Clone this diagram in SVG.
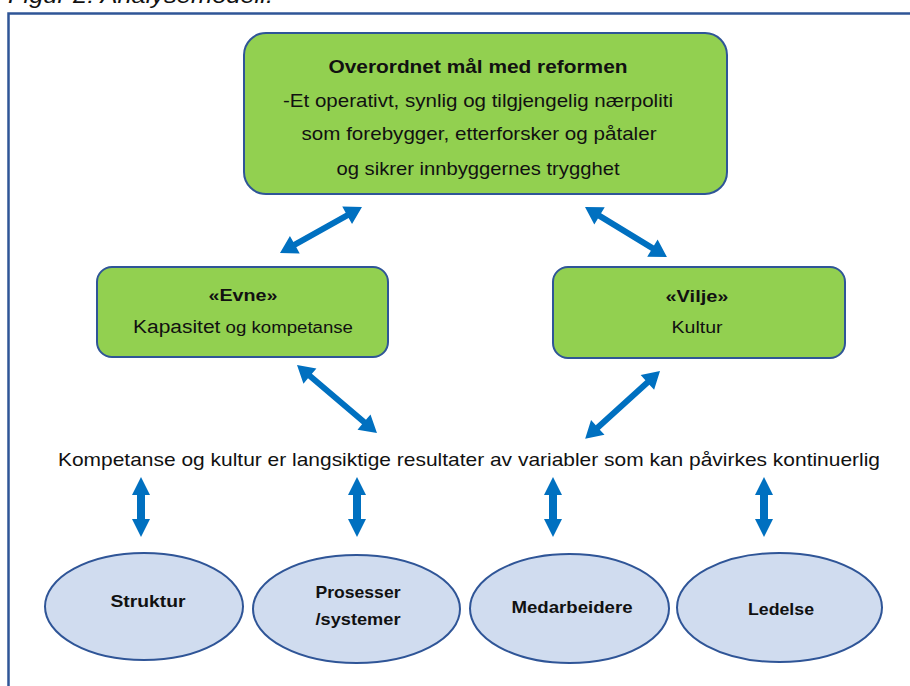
<svg xmlns="http://www.w3.org/2000/svg" xmlns:xlink="http://www.w3.org/1999/xlink" width="910" height="686" viewBox="0 0 910 686">
  <style>
    text { font-family: "Liberation Sans", Arial, sans-serif; fill: #111; text-anchor: middle; }
    .box { fill: #92D050; stroke: #2F5597; stroke-width: 2; }
    .oval { fill: #D0DCEF; stroke: #2F5597; stroke-width: 2; }
    .arrow { fill: #0070C0; }
    .b { font-weight: bold; }
  </style>
  <defs>
    <path id="varrow" d="M0,0 L9,18 L4,18 L4,42 L9,42 L0,60 L-9,42 L-4,42 L-4,18 L-9,18 Z"/>
  </defs>
  <rect width="910" height="686" fill="#fff"/>
  <text x="8" y="3" style="text-anchor:start;font-style:italic" font-size="22" textLength="265" lengthAdjust="spacingAndGlyphs">Figur 2: Analysemodell.</text>
  <rect x="8.5" y="13.5" width="1000" height="1000" fill="none" stroke="#2F5597" stroke-width="2.5"/>

  <g id="maal">
    <rect class="box" x="244" y="33" width="483" height="161" rx="22"/>
    <text class="b" x="478" y="73" font-size="19" textLength="299" lengthAdjust="spacingAndGlyphs">Overordnet mål med reformen</text>
    <text x="478" y="107" font-size="19" textLength="390" lengthAdjust="spacingAndGlyphs">-Et operativt, synlig og tilgjengelig nærpoliti</text>
    <text x="479" y="140" font-size="19" textLength="355" lengthAdjust="spacingAndGlyphs">som forebygger, etterforsker og påtaler</text>
    <text x="478" y="175" font-size="19" textLength="283" lengthAdjust="spacingAndGlyphs">og sikrer innbyggernes trygghet</text>
  </g>

  <g id="evne">
    <rect class="box" x="97" y="267" width="291" height="90" rx="15"/>
    <text class="b" x="243" y="301" font-size="17" textLength="69" lengthAdjust="spacingAndGlyphs">«Evne»</text>
    <text x="243" y="333" font-size="16" textLength="220" lengthAdjust="spacingAndGlyphs"><tspan font-size="18">Kapasitet</tspan> og kompetanse</text>
  </g>

  <g id="vilje">
    <rect class="box" x="553" y="267" width="292" height="91" rx="15"/>
    <text class="b" x="697" y="302" font-size="17" textLength="63" lengthAdjust="spacingAndGlyphs">«Vilje»</text>
    <text x="697" y="333" font-size="16" textLength="51" lengthAdjust="spacingAndGlyphs">Kultur</text>
  </g>

  <g id="variabler">
    <text x="469" y="466" font-size="19" textLength="822" lengthAdjust="spacingAndGlyphs">Kompetanse og kultur er langsiktige resultater av variabler som kan påvirkes kontinuerlig</text>
  </g>

  <g id="struktur">
    <ellipse class="oval" cx="144" cy="606.5" rx="99" ry="53.5"/>
    <text class="b" x="148" y="607" font-size="17" textLength="75" lengthAdjust="spacingAndGlyphs">Struktur</text>
  </g>
  <g id="prosesser">
    <ellipse class="oval" cx="356.5" cy="609" rx="103.5" ry="54"/>
    <text class="b" x="358" y="598" font-size="17" textLength="85" lengthAdjust="spacingAndGlyphs">Prosesser</text>
    <text class="b" x="358" y="625" font-size="17" textLength="85" lengthAdjust="spacingAndGlyphs">/systemer</text>
  </g>
  <g id="medarbeidere">
    <ellipse class="oval" cx="569.5" cy="608.5" rx="99.5" ry="54.5"/>
    <text class="b" x="572" y="613" font-size="17" textLength="121" lengthAdjust="spacingAndGlyphs">Medarbeidere</text>
  </g>
  <g id="ledelse">
    <ellipse class="oval" cx="779.5" cy="607.5" rx="102.5" ry="54.5"/>
    <text class="b" x="781" y="615" font-size="17" textLength="66" lengthAdjust="spacingAndGlyphs">Ledelse</text>
  </g>

  <g id="connectors" class="arrow">
    <path transform="translate(280,253) rotate(-29.3)" d="M0,0 L17,-10 L17,-3 L77,-3 L77,-10 L94,0 L77,10 L77,3 L17,3 L17,10 Z"/>
    <path transform="translate(585,207) rotate(31.4)" d="M0,0 L17,-10 L17,-3 L79,-3 L79,-10 L96,0 L79,10 L79,3 L17,3 L17,10 Z"/>
    <path transform="translate(297,365) rotate(40.4)" d="M0,0 L17,-10 L17,-3 L88,-3 L88,-10 L105,0 L88,10 L88,3 L17,3 L17,10 Z"/>
    <path transform="translate(660,371) rotate(137.8)" d="M0,0 L17,-10 L17,-3 L84,-3 L84,-10 L101,0 L84,10 L84,3 L17,3 L17,10 Z"/>
    <use xlink:href="#varrow" href="#varrow" x="141" y="477"/>
    <use xlink:href="#varrow" href="#varrow" x="357" y="477"/>
    <use xlink:href="#varrow" href="#varrow" x="553" y="477"/>
    <use xlink:href="#varrow" href="#varrow" x="764" y="477"/>
  </g>
</svg>
